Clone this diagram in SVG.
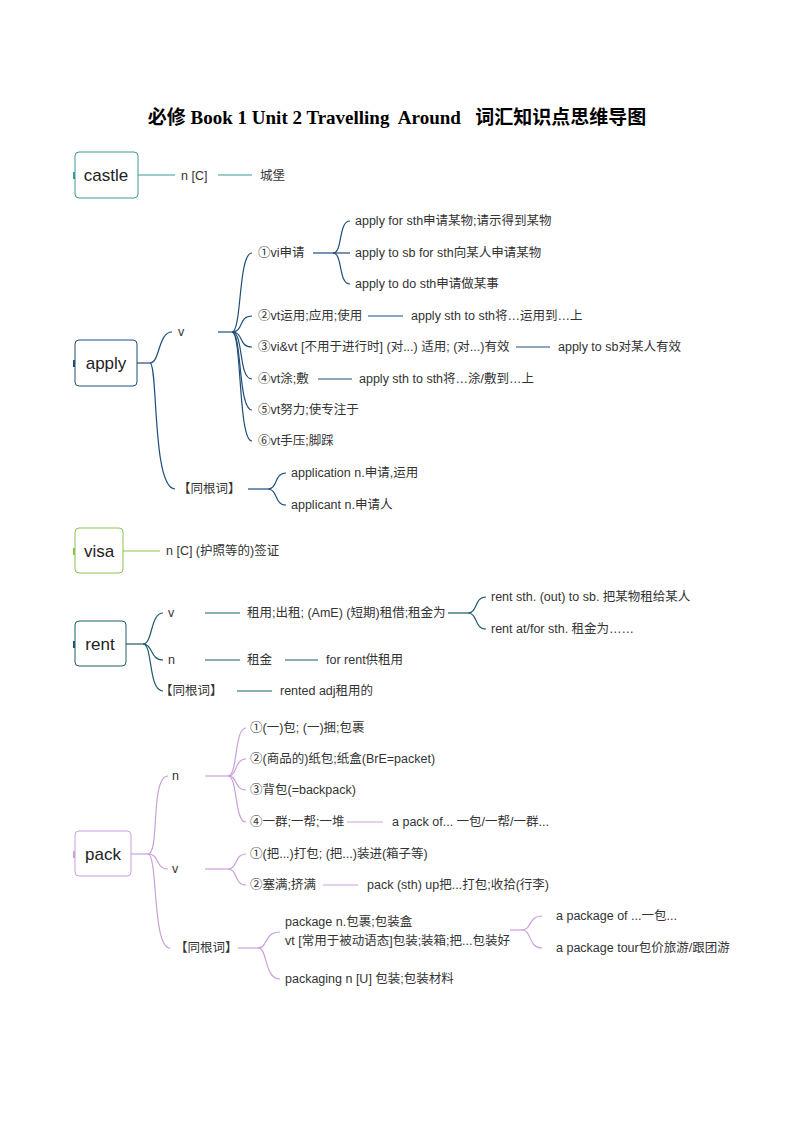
<svg xmlns="http://www.w3.org/2000/svg" width="794" height="1123" viewBox="0 0 794 1123">
<style>
text{font-family:"Liberation Sans","Noto Sans CJK SC",sans-serif;font-size:12.5px;fill:#333}
.t{font-family:"Liberation Serif","Noto Sans CJK SC",serif;font-size:19px;font-weight:bold;fill:#000}
.m{font-size:17px;fill:#222}
.box{fill:#fff;stroke-width:1}
path,line{fill:none;stroke-width:1.2}
.c1{stroke:#3a9a9a}.c2{stroke:#1f4e79}.c3{stroke:#8bc34a}.c4{stroke:#1e5a6a}.c5{stroke:#c9a0dc}
</style>
<rect width="794" height="1123" fill="#fff"/>
<text class="t" x="397" y="124" text-anchor="middle" xml:space="preserve">必修 Book 1 Unit 2 Travelling  Around   词汇知识点思维导图</text>
<g id="connectors">
<line class="c1" x1="138" y1="175" x2="175" y2="175"/><line class="c1" x1="218" y1="175" x2="252" y2="175"/>
<g class="c2">
<path d="M137 363H150"/><path d="M150 363C160 363 158 332 172 332"/><path d="M150 363C158 363 152 489 175 489"/>
<path d="M218 332H232"/>
<path d="M232 332C242 332 238 253 252 253"/><path d="M232 332C244 332 238 316 252 316"/><path d="M232 332C244 332 238 347 252 347"/><path d="M232 332C244 332 238 379 252 379"/><path d="M232 332C242 332 238 410 252 410"/><path d="M232 332C242 332 238 441 252 441"/>
<path d="M313 253H333"/><path d="M333 253C343 253 338 221 350 221"/><path d="M333 253H350"/><path d="M333 253C343 253 338 284 350 284"/>
<path d="M368 316H403"/><path d="M516 347H550"/><path d="M318 379H352"/>
<path d="M248 489H268"/><path d="M268 489C278 489 274 473 286 473"/><path d="M268 489C278 489 274 505 286 505"/>
</g>
<line class="c3" x1="123" y1="551" x2="160" y2="551"/>
<g class="c4">
<path d="M126 644H143"/><path d="M143 644C153 644 150 613 163 613"/><path d="M143 644C153 644 150 660 163 660"/><path d="M143 644C153 644 148 691 163 691"/>
<path d="M205 613H240"/><path d="M205 660H240"/><path d="M285 660H318"/><path d="M237 691H272"/>
<path d="M448 613H468"/><path d="M468 613C478 613 474 597 486 597"/><path d="M468 613C478 613 474 629 486 629"/>
</g>
<g class="c5">
<path d="M131 854H148"/><path d="M148 854C160 854 150 776 168 776"/><path d="M148 854C160 854 155 869 168 869"/><path d="M148 854C158 854 152 948 170 948"/>
<path d="M205 776H228"/><path d="M228 776C238 776 234 728 246 728"/><path d="M228 776C238 776 234 759 246 759"/><path d="M228 776C238 776 234 790 246 790"/><path d="M228 776C238 776 234 822 246 822"/>
<path d="M347 822H383"/>
<path d="M205 869H228"/><path d="M228 869C238 869 234 854 246 854"/><path d="M228 869C238 869 234 885 246 885"/>
<path d="M323 885H358"/>
<path d="M238 948H258"/><path d="M258 948C268 948 264 932 280 932"/><path d="M258 948C268 948 264 979 280 979"/>
<path d="M510 930H522"/><path d="M522 930C532 930 528 916 542 916"/><path d="M522 930C532 930 528 948 542 948"/>
</g>
</g>
<g id="castle"><rect x="73" y="172" width="3" height="7" fill="#3a9a9a"/><rect class="box c1" x="75" y="152" width="63" height="46" rx="4"/><text class="m" x="106" y="181" text-anchor="middle">castle</text><text x="181" y="180">n [C]</text><text x="260" y="180">城堡</text></g>
<g id="apply"><rect x="73" y="360" width="3" height="7" fill="#1f4e79"/><rect class="box c2" x="75" y="340" width="62" height="46" rx="4"/><text class="m" x="106" y="369" text-anchor="middle">apply</text>
<text x="178" y="336">v</text>
<text x="258" y="257">①vi申请</text>
<text x="355" y="225">apply for sth申请某物;请示得到某物</text>
<text x="355" y="257">apply to sb for sth向某人申请某物</text>
<text x="355" y="288">apply to do sth申请做某事</text>
<text x="258" y="320">②vt运用;应用;使用</text><text x="411" y="320">apply sth to sth将…运用到…上</text>
<text x="258" y="351">③vi&amp;vt [不用于进行时] (对...) 适用; (对...)有效</text><text x="558" y="351">apply to sb对某人有效</text>
<text x="258" y="383">④vt涂;敷</text><text x="359" y="383">apply sth to sth将…涂/敷到…上</text>
<text x="258" y="414">⑤vt努力;使专注于</text>
<text x="258" y="445">⑥vt手压;脚踩</text>
<text x="178" y="493">【同根词】</text>
<text x="291" y="477">application n.申请,运用</text>
<text x="291" y="509">applicant n.申请人</text></g>
<g id="visa"><rect x="73" y="548" width="3" height="7" fill="#8bc34a"/><rect class="box c3" x="75" y="528" width="48" height="45" rx="4"/><text class="m" x="99" y="557" text-anchor="middle">visa</text><text x="166" y="555">n [C] (护照等的)签证</text></g>
<g id="rent"><rect x="73" y="641" width="3" height="7" fill="#1e5a6a"/><rect class="box c4" x="75" y="621" width="51" height="45" rx="4"/><text class="m" x="100" y="650" text-anchor="middle">rent</text>
<text x="168" y="617">v</text><text x="247" y="617">租用;出租; (AmE) (短期)租借;租金为</text>
<text x="491" y="601">rent sth. (out) to sb. 把某物租给某人</text><text x="491" y="633">rent at/for sth. 租金为……</text>
<text x="168" y="664">n</text><text x="247" y="664">租金</text><text x="326" y="664">for rent供租用</text>
<text x="160" y="695">【同根词】</text><text x="280" y="695">rented adj租用的</text></g>
<g id="pack"><rect x="73" y="851" width="3" height="7" fill="#c9a0dc"/><rect class="box c5" x="75" y="831" width="56" height="45" rx="4"/><text class="m" x="103" y="860" text-anchor="middle">pack</text>
<text x="172" y="780">n</text>
<text x="250" y="732">①(一)包; (一)捆;包裹</text>
<text x="250" y="763">②(商品的)纸包;纸盒(BrE=packet)</text>
<text x="250" y="794">③背包(=backpack)</text>
<text x="250" y="826">④一群;一帮;一堆</text><text x="392" y="826">a pack of... 一包/一帮/一群...</text>
<text x="172" y="873">v</text>
<text x="250" y="858">①(把...)打包; (把...)装进(箱子等)</text>
<text x="250" y="889">②塞满;挤满</text><text x="367" y="889">pack (sth) up把...打包;收拾(行李)</text>
<text x="175" y="952">【同根词】</text>
<text x="285" y="926">package n.包裹;包装盒</text>
<text x="285" y="945">vt [常用于被动语态]包装;装箱;把...包装好</text>
<text x="285" y="983">packaging n [U] 包装;包装材料</text>
<text x="556" y="920">a package of ...一包...</text>
<text x="556" y="952">a package tour包价旅游/跟团游</text></g>
</svg>
